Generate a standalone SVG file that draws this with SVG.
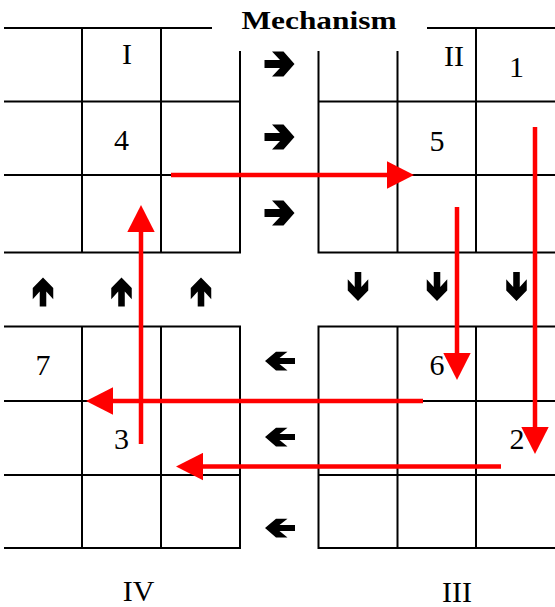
<svg xmlns="http://www.w3.org/2000/svg" width="555" height="607" viewBox="0 0 555 607">
<style>
.g{stroke:#000;stroke-width:2;fill:none;stroke-linecap:square}
.t{font-family:"Liberation Serif","Times New Roman",serif;font-size:30px;fill:#000;text-anchor:middle}
.r{stroke:#ff0000;stroke-width:4.5;fill:none}
.a{fill:#000}
</style>
<defs>
<path id="ar" d="M-15,-4 H0.5 L-7.5,-12.5 H4 L15,0 L4,12.5 H-7.5 L0.5,4 H-15 Z"/>
<marker id="rh" viewBox="0 -14 28 28" markerWidth="28" markerHeight="28" refX="0" refY="0" orient="auto" markerUnits="userSpaceOnUse">
<path d="M0,-13.7 L27,0 L0,13.7 Z" fill="#ff0000"/>
</marker>
</defs>
<rect width="555" height="607" fill="#fff"/>
<text x="319" y="29" font-family="Liberation Serif,'Times New Roman',serif" font-weight="bold" font-size="26" text-anchor="middle" textLength="155" lengthAdjust="spacingAndGlyphs">Mechanism</text>
<g id="quadrant-I">
<path class="g" d="M5,28 H211 M5,101.5 H240 M5,175 H240 M5,252.5 H240 M82,28 V252.5 M161,28 V252.5 M240,52 V252.5"/>
<text class="t" x="127" y="64">I</text>
<text class="t" x="121.5" y="150">4</text>
</g>
<g id="quadrant-II">
<path class="g" d="M428,28 H555 M318.5,101.5 H555 M318.5,175 H555 M318.5,252.5 H555 M318.5,52 V252.5 M397.5,52 V252.5 M476,28 V252.5"/>
<text class="t" x="454" y="66">II</text>
<text class="t" x="516.5" y="77">1</text>
<text class="t" x="437" y="151">5</text>
</g>
<g id="quadrant-IV">
<path class="g" d="M5,326.5 H240 M5,401 H240 M5,475 H240 M5,548 H240 M82,326.5 V548 M161,326.5 V548 M240,326.5 V548"/>
<text class="t" x="43" y="375">7</text>
<text class="t" x="121.5" y="449">3</text>
<text class="t" x="138.5" y="601">IV</text>
</g>
<g id="quadrant-III">
<path class="g" d="M318.5,326.5 H555 M318.5,401 H555 M318.5,475 H555 M318.5,548 H555 M318.5,326.5 V548 M397.5,326.5 V548 M476,326.5 V548"/>
<text class="t" x="437" y="375">6</text>
<text class="t" x="517" y="449">2</text>
<text class="t" x="457" y="602">III</text>
</g>
<g id="flow-arrows" class="a">
<use href="#ar" transform="translate(279.5,64)"/>
<use href="#ar" transform="translate(279.5,137)"/>
<use href="#ar" transform="translate(279.5,213)"/>
<use href="#ar" transform="translate(280,361) rotate(180) scale(1,0.75)"/>
<use href="#ar" transform="translate(280,437) rotate(180) scale(1,0.75)"/>
<use href="#ar" transform="translate(280,528) rotate(180) scale(1,0.75)"/>
<use href="#ar" transform="translate(43,292) rotate(-90) scale(0.97,0.82)"/>
<use href="#ar" transform="translate(121.5,292) rotate(-90) scale(0.97,0.82)"/>
<use href="#ar" transform="translate(201,292) rotate(-90) scale(0.97,0.82)"/>
<use href="#ar" transform="translate(358,286.5) rotate(90) scale(0.97,0.82)"/>
<use href="#ar" transform="translate(437,286.5) rotate(90) scale(0.97,0.82)"/>
<use href="#ar" transform="translate(516.5,286.5) rotate(90) scale(0.97,0.82)"/>
</g>
<g id="connectors">
<line class="r" x1="171" y1="175" x2="387" y2="175" marker-end="url(#rh)"/>
<line class="r" x1="535" y1="127" x2="535" y2="427" marker-end="url(#rh)"/>
<line class="r" x1="457" y1="207" x2="457" y2="353" marker-end="url(#rh)"/>
<line class="r" x1="423" y1="401" x2="113" y2="401" marker-end="url(#rh)"/>
<line class="r" x1="501" y1="466.5" x2="203" y2="466.5" marker-end="url(#rh)"/>
<line class="r" x1="141" y1="444" x2="141" y2="232" marker-end="url(#rh)"/>
</g>
</svg>
